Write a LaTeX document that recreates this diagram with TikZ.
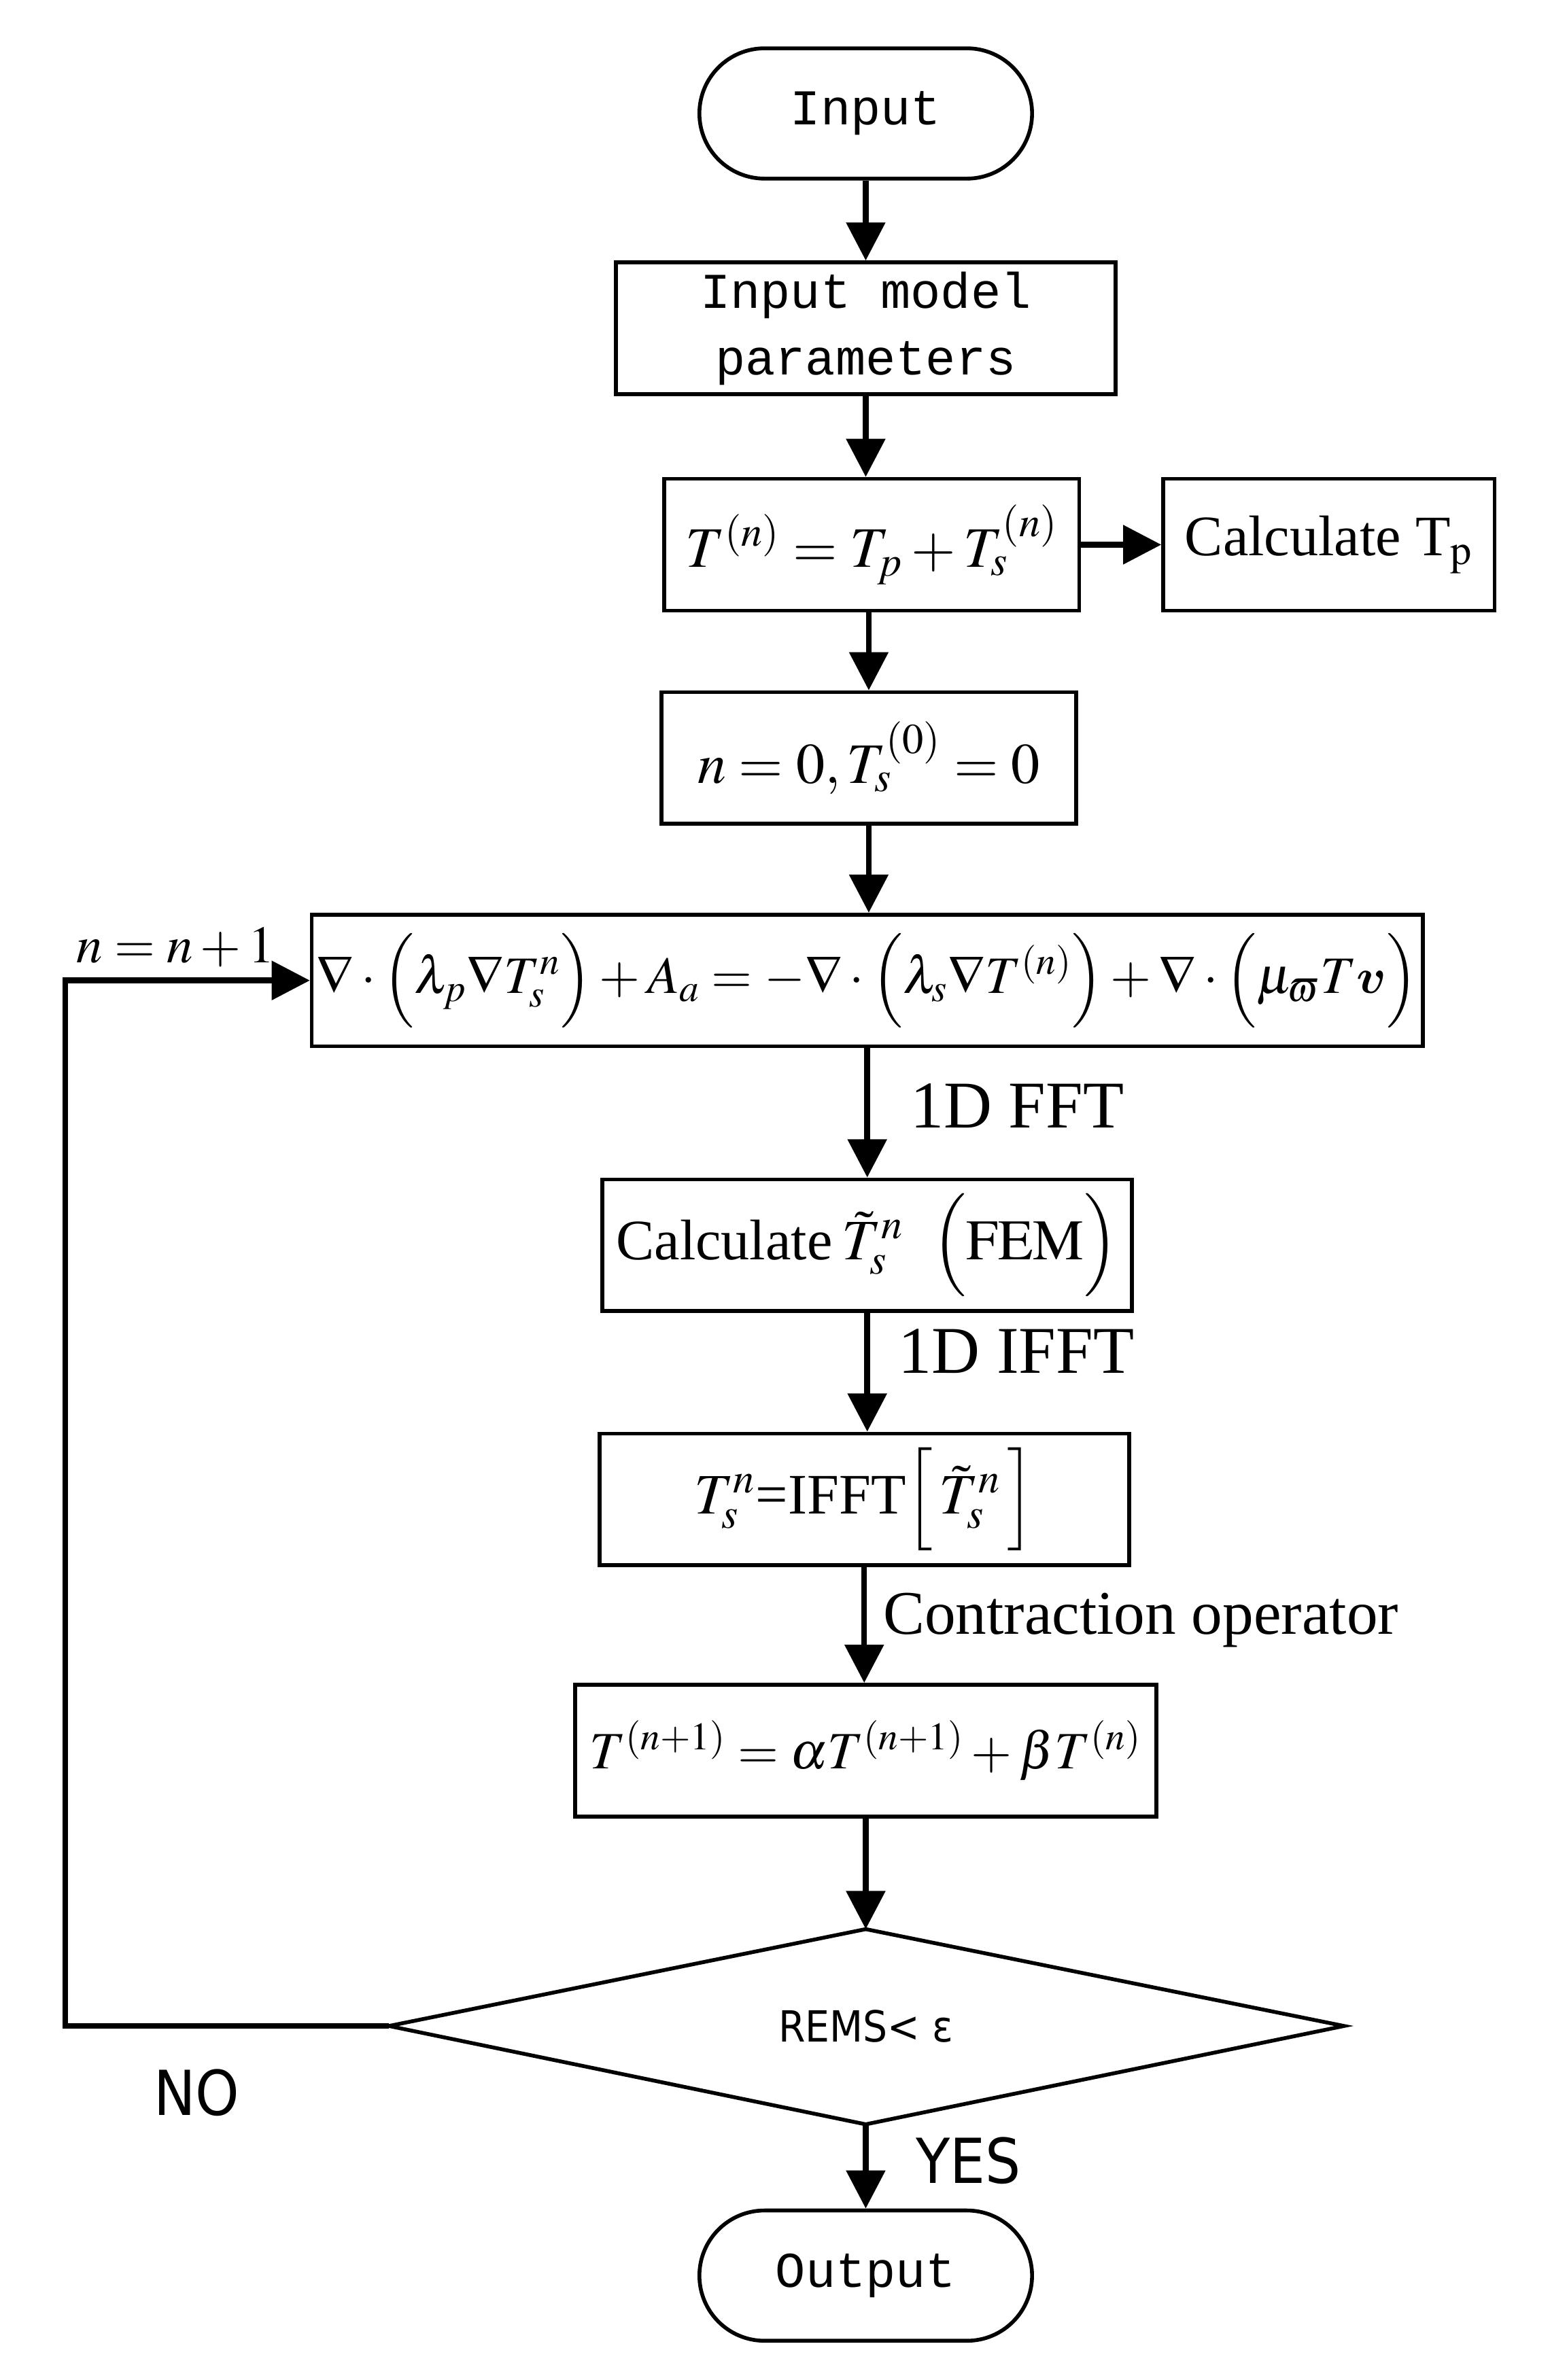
\documentclass[tikz,border=0pt]{standalone}
\usepackage{amsmath,bm}
\usepackage{mathptmx}
\usepackage{fontspec}
\setmainfont{Liberation Serif}
\newfontfamily\monof{Liberation Mono}
\newfontfamily\narrowf{DejaVu Sans Condensed}
\usetikzlibrary{arrows.meta}
\begin{document}
\begin{tikzpicture}[x=0.0223cm,y=-0.0223cm,
  box/.style={draw,line width=1.6pt,minimum height=1.94cm,inner sep=2pt,font=\fontsize{24}{28}\selectfont},
  term/.style={draw,line width=1.6pt,rounded corners=0.96cm,minimum width=4.9cm,minimum height=1.92cm,font=\monof\fontsize{21}{28}\selectfont},
  arr/.style={line width=2.4pt,-{Triangle[length=16pt,width=16pt]}},
  lab/.style={font=\fontsize{28}{32}\selectfont}]
\useasboundingbox (0,0) rectangle (1024,1573);
\node[term] (in) at (572,75) {Input};
\node[box,minimum width=7.36cm,font=\monof\fontsize{21}{28}\selectfont,align=center] (par) at (572,217) {Input model\\parameters};
\node[box,minimum width=6.11cm] (t) at (576,360) {$T^{(n)}=T_p+T_s^{(n)}$};
\node[box,minimum width=4.88cm] (tp) at (878,360) {Calculate T$_\mathrm{p}$};
\node[box,minimum width=6.11cm] (n0) at (574,501) {$n=0,T_s^{(0)}=0$};
\node[box,minimum width=16.12cm,font=\fontsize{22}{26}\selectfont] (eq) at (573,648) {$\nabla\cdot\Bigl(\lambda_p\nabla T_s^n\Bigr)+A_a=-\nabla\cdot\Bigl(\lambda_s\nabla T^{(n)}\Bigr)+\nabla\cdot\Bigl(\mu_{\varpi}T\bm{v}\Bigr)$};
\node[box,minimum width=7.8cm] (fem) at (573,823) {Calculate\,$\tilde{T}_s^n$\ \ $\Bigl(\mathrm{FEM}\Bigr)$};
\node[box,minimum width=7.8cm] (ifft) at (571,991) {$T_s^n\text{=IFFT}\Bigl[\,\tilde{T}_s^n\,\Bigr]$};
\node[box,minimum width=8.56cm,font=\fontsize{22}{26}\selectfont] (tn1) at (572,1157) {$T^{(n+1)}=\alpha T^{(n+1)}+\beta T^{(n)}$};
\coordinate (dt) at (572,1275); \coordinate (dl) at (257,1339);
\coordinate (db) at (572,1404); \coordinate (dr) at (888,1339);
\draw[line width=1.6pt] (dt)--(dr)--(db)--(dl)--cycle;
\node[font=\narrowf\fontsize{18}{22}\selectfont] (rems) at (572,1339) {REMS< ε};
\node[term] (out) at (572,1504) {Output};
\draw[arr] (in)--(par);
\draw[arr] (par)--(par|-t.north);
\draw[arr] (t)--(tp);
\draw[arr] (t.south-|n0)--(n0);
\draw[arr] (n0)--(n0|-eq.north);
\draw[arr] (eq)--(fem);
\draw[arr] (fem)--(fem|-ifft.north);
\draw[arr] (ifft)--(ifft|-tn1.north);
\draw[arr] (tn1)--(dt);
\draw[arr] (db)--(out);
\coordinate (c1) at (43,1339); \coordinate (c2) at (43,648);
\draw[arr] (dl)--(c1)--(c2)--(eq.west);
\node[font=\fontsize{22}{26}\selectfont] at (116,626) {$n=n+1$};
\node[font=\narrowf\fontsize{26}{30}\selectfont] at (130,1383) {NO};
\node[font=\narrowf\fontsize{26}{30}\selectfont] at (640,1428) {YES};
\node[lab,anchor=west] at (596,731) {1D FFT};
\node[lab,anchor=west] at (588,893) {1D IFFT};
\node[lab,anchor=west,font=\fontsize{26}{30}\selectfont] at (578,1071) {Contraction operator};
\end{tikzpicture}
\end{document}
